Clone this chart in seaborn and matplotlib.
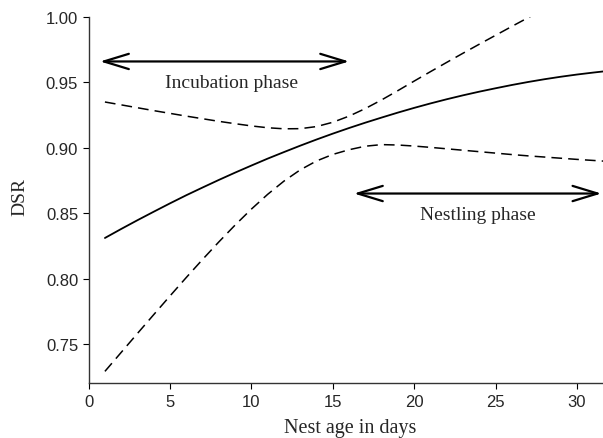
import pandas as pd
import matplotlib
matplotlib.use("Agg")
import matplotlib.pyplot as plt
import seaborn as sns

# Nest age (days) and daily survival rate estimates
age = [1, 2, 3, 4, 5, 6, 7, 8, 9, 10, 11, 12, 13, 14, 15, 16,
       17, 18, 19, 20, 21, 22, 23, 24, 25, 26, 27, 28, 29, 30, 31, 32]
dsr = [0.8310, 0.8379, 0.8446, 0.8511, 0.8575, 0.8637, 0.8696, 0.8754, 0.8810,
       0.8864, 0.8917, 0.8967, 0.9016, 0.9063, 0.9108, 0.9151, 0.9192, 0.9231,
       0.9269, 0.9305, 0.9339, 0.9371, 0.9401, 0.9429, 0.9455, 0.9480, 0.9503,
       0.9524, 0.9543, 0.9560, 0.9575, 0.9589]
upper_ci = [0.9350, 0.9328, 0.9306, 0.9284, 0.9263, 0.9242, 0.9222, 0.9202,
            0.9184, 0.9167, 0.9153, 0.9145, 0.9146, 0.9162, 0.9195, 0.9242,
            0.9300, 0.9366, 0.9437, 0.9510, 0.9582, 0.9653, 0.9723, 0.9792,
            0.9860, 0.9928, 0.9995, 1.0062, 1.0129, 1.0196, 1.0263, 1.0330]
lower_ci = [0.7290, 0.7435, 0.7580, 0.7724, 0.7867, 0.8008, 0.8146, 0.8280,
            0.8409, 0.8531, 0.8644, 0.8745, 0.8831, 0.8899, 0.8949, 0.8985,
            0.9012, 0.9024, 0.9021, 0.9013, 0.9003, 0.8992, 0.8981, 0.8970,
            0.8959, 0.8948, 0.8938, 0.8929, 0.8920, 0.8911, 0.8903, 0.8895]

df = pd.DataFrame({"age": age, "dsr": dsr, "upper": upper_ci, "lower": lower_ci})

sns.set_style("ticks")
serif = ["Liberation Serif", "DejaVu Serif"]
plt.rcParams["font.family"] = ["Liberation Sans", "DejaVu Sans"]

fig = plt.figure(figsize=(6.03, 4.39), dpi=100)
ax = fig.add_axes([0.147, 0.125, 0.853, 0.834])

sns.lineplot(data=df, x="age", y="dsr", color="black", lw=1.3, ax=ax)
sns.lineplot(data=df, x="age", y="upper", color="black", lw=1.1, ax=ax)
sns.lineplot(data=df, x="age", y="lower", color="black", lw=1.1, ax=ax)
for ln in ax.lines[1:]:
    ln.set_dashes((7, 4))

# phase arrows
arrow = dict(arrowstyle="<->,head_length=1.8,head_width=0.55",
             lw=1.6, color="black", shrinkA=0, shrinkB=0)
ax.annotate("", xy=(0.7, 0.966), xytext=(16.0, 0.966), arrowprops=arrow)
ax.text(8.75, 0.950, "Incubation phase", ha="center", va="center",
        fontsize=14, family=serif)
ax.annotate("", xy=(16.3, 0.865), xytext=(31.5, 0.865), arrowprops=arrow)
ax.text(23.9, 0.849, "Nestling phase", ha="center", va="center",
        fontsize=14, family=serif)

ax.set_xlim(0, 31.6)
ax.set_ylim(0.72, 1.0)
ax.set_xticks([0, 5, 10, 15, 20, 25, 30])
ax.set_yticks([0.75, 0.80, 0.85, 0.90, 0.95, 1.00])
ax.set_yticklabels(["0.75", "0.80", "0.85", "0.90", "0.95", "1.00"])
ax.tick_params(labelsize=12, length=4, width=0.8, color="black")
ax.set_xlabel("Nest age in days", fontsize=14.5, family=serif)
ax.set_ylabel("DSR", fontsize=14, family=serif)
ax.xaxis.set_label_coords(0.508, -0.094)
ax.yaxis.set_label_coords(-0.118, 0.511)
sns.despine(ax=ax)
for s in ["left", "bottom"]:
    ax.spines[s].set_color("#333333")
    ax.spines[s].set_linewidth(1.0)

plt.savefig("out.png", dpi=100)
plt.close()
